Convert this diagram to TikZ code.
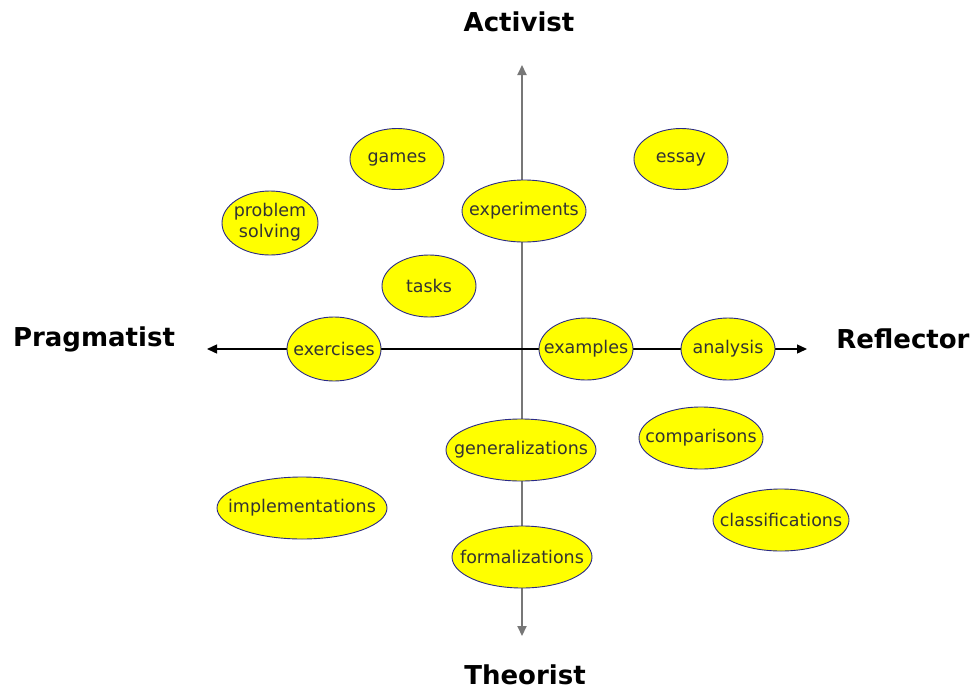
\documentclass[tikz,border=0pt]{standalone}
\usepackage{fontspec}
\setmainfont{DejaVu Sans}
\usetikzlibrary{shapes.geometric,arrows.meta}
\definecolor{fillY}{HTML}{FFFF00}
\definecolor{edgeB}{HTML}{2A2A86}
\definecolor{txt}{HTML}{333333}
\definecolor{axisG}{HTML}{777777}
\newcommand{\zw}[1]{\makebox[0pt][c]{#1}}
\tikzset{
  blob/.style={ellipse,draw=edgeB,line width=0.9pt,fill=fillY,inner sep=0pt,
    text=txt,font=\fontsize{17.5}{20}\selectfont,minimum height=62pt},
  pole/.style={font=\bfseries\fontsize{26}{28}\selectfont,text=black},
  vaxis/.style={draw=axisG,line width=2pt,-{Triangle[width=9pt,length=10pt]}},
  haxis/.style={draw=black,line width=1.4pt,-{Triangle[width=9pt,length=10pt]}}
}
\begin{document}
\begin{tikzpicture}[x=1pt,y=-1pt]
\useasboundingbox (0,0) rectangle (974,691);
\fill[white] (0,0) rectangle (974,691);
% axes
\coordinate (c) at (522,349);
\coordinate (top) at (522,65);
\coordinate (bot) at (522,636);
\coordinate (left) at (207,349);
\coordinate (right) at (807,349);
\draw[vaxis] (c) -- (top);
\draw[vaxis] (c) -- (bot);
\draw[haxis] (c) -- (left);
\draw[haxis] (c) -- (right);
% poles
\node[pole] (act) at (519,22) {Activist};
\node[pole] (theo) at (525,675) {Theorist};
\node[pole] (prag) at (94,339) {Pragmatist};
\node[pole] (refl) at (903,339) {Reflector};
% ellipses
\node[blob,minimum width=94pt,minimum height=61pt] (games) at (397,159) {\zw{games}};
\node[blob,minimum width=94pt,minimum height=61pt] (essay) at (681,159) {\zw{essay}};
\node[blob,minimum width=124pt] (exper) at (524,211) {\zw{experiments}};
\node[blob,minimum width=96pt,minimum height=64pt] (prob) at (270,223) {\zw{\begin{tabular}{@{}c@{}}problem\\[1pt]solving\end{tabular}}};
\node[blob,minimum width=94pt] (tasks) at (429,286) {\zw{tasks}};
\node[blob,minimum width=94pt,minimum height=64pt] (exerc) at (334,349) {\zw{exercises}};
\node[blob,minimum width=94pt] (examp) at (586,349) {\zw{examples}};
\node[blob,minimum width=94pt] (analy) at (728,349) {\zw{analysis}};
\node[blob,minimum width=150pt] (gener) at (521,450) {\zw{generalizations}};
\node[blob,minimum width=124pt] (compa) at (701,438) {\zw{comparisons}};
\node[blob,minimum width=170pt] (imple) at (302,508) {\zw{implementations}};
\node[blob,minimum width=136pt] (class) at (781,520) {\zw{classifications}};
\node[blob,minimum width=140pt] (forma) at (522,557) {\zw{formalizations}};
\end{tikzpicture}
\end{document}
